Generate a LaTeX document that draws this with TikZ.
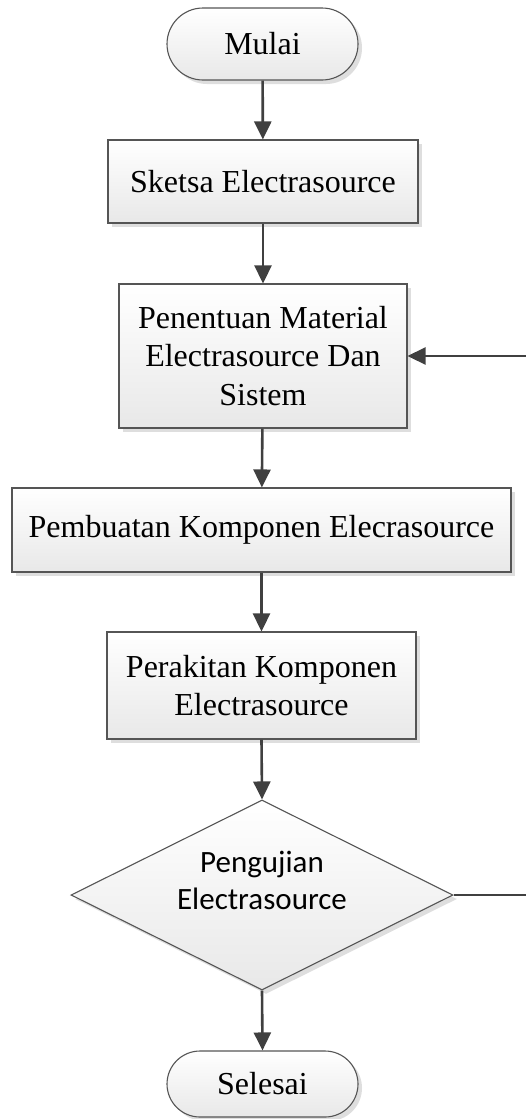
\documentclass[tikz,border=0pt]{standalone}
\usepackage{fontspec}
\setmainfont{Liberation Serif}
\newfontfamily\calib{Carlito}
\usetikzlibrary{shapes.misc,shapes.geometric,shadows,arrows.meta}
\definecolor{edgegray}{HTML}{555555}
\definecolor{arrowgray}{HTML}{404040}
\tikzset{
  boxbase/.style={draw=edgegray, line width=1.1pt, top color=white, bottom color=black!9,
    drop shadow={shadow xshift=4pt, shadow yshift=-4pt, fill=black!13, opacity=1},
    inner sep=0pt, align=center, font=\fontsize{32}{38.5}\selectfont},
  procbox/.style={boxbase, rectangle},
  termbox/.style={boxbase, rounded rectangle},
  decbox/.style={boxbase, diamond, aspect=2},
  dectext/.style={align=center, inner sep=0pt, font=\calib\fontsize{31}{37}\selectfont},
  flow/.style={draw=arrowgray, line width=2.6pt, -{Triangle[length=18pt,width=17pt]}},
}
\begin{document}
\begin{tikzpicture}[x=1pt,y=-1pt]
\useasboundingbox (0,0) rectangle (526,1119);
\node[termbox, minimum width=191pt, minimum height=72pt] (start) at (262.5,44) {Mulai};
\node[procbox, minimum width=310pt, minimum height=83pt] (sketsa) at (263,181.5) {Sketsa Electrasource};
\node[procbox, minimum width=288pt, minimum height=144pt] (penentuan) at (263,356) {Penentuan Material\\Electrasource Dan\\Sistem};
\node[procbox, minimum width=499pt, minimum height=84pt] (pembuatan) at (261.5,530) {Pembuatan Komponen Elecrasource};
\node[procbox, minimum width=309pt, minimum height=107pt] (perakitan) at (261.5,685.5) {Perakitan Komponen\\Electrasource};
\node[decbox, minimum width=382pt, minimum height=190pt] (uji) at (262,895) {};
\node[dectext] (ujitext) at (262,880) {Pengujian\\Electrasource};
\node[termbox, minimum width=191pt, minimum height=66pt] (selesai) at (262.5,1084) {Selesai};
\coordinate (fbout) at (540,895);
\draw[flow] (start) -- (sketsa);
\draw[flow] (sketsa) -- (penentuan);
\draw[flow] (penentuan) -- (pembuatan);
\draw[flow] (pembuatan) -- (perakitan);
\draw[flow] (perakitan.south) -- (uji.north);
\draw[flow] (uji.south) -- (selesai.north);
\begin{scope}
\clip (0,0) rectangle (526,1119);
\draw[flow] (uji.east) -- (fbout) |- (penentuan.east);
\end{scope}
\end{tikzpicture}
\end{document}
